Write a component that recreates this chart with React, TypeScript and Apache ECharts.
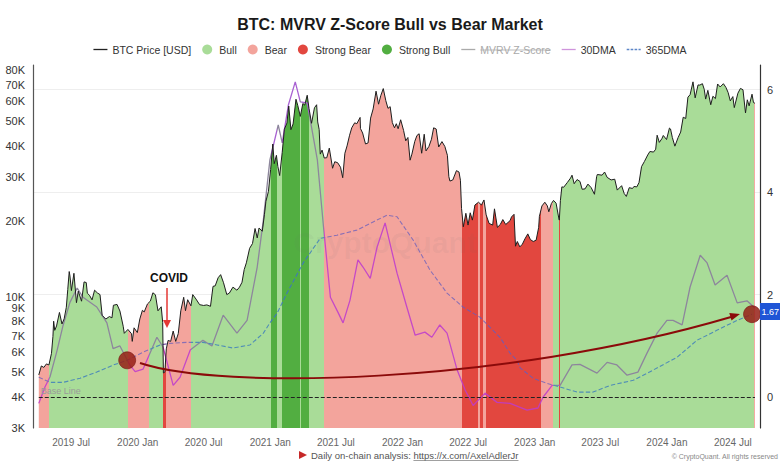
import React, { useEffect, useRef } from 'react';
import * as echarts from 'echarts';

type Regime = 'Bull' | 'Bear' | 'Strong Bear' | 'Strong Bull';

const TITLE = 'BTC: MVRV Z-Score Bull vs Bear Market';

// BTC price, USD
const btcPrice: [string, number][] = [
  ['2019-04-03', 4880], ['2019-04-10', 5300], ['2019-04-17', 5230], ['2019-04-24', 5400],
  ['2019-05-01', 5350], ['2019-05-08', 5950], ['2019-05-12', 6950], ['2019-05-14', 7990],
  ['2019-05-17', 7350], ['2019-05-22', 7650], ['2019-05-30', 8660], ['2019-06-06', 7790],
  ['2019-06-12', 8170], ['2019-06-18', 9080], ['2019-06-22', 10700], ['2019-06-26', 12600],
  ['2019-06-28', 12100], ['2019-07-02', 10580], ['2019-07-09', 12400], ['2019-07-16', 9470],
  ['2019-07-21', 10530], ['2019-07-30', 9600], ['2019-08-06', 11460], ['2019-08-12', 11390],
  ['2019-08-15', 10330], ['2019-08-21', 10130], ['2019-08-28', 9720], ['2019-09-04', 10620],
  ['2019-09-12', 10350], ['2019-09-19', 10200], ['2019-09-25', 8430], ['2019-10-05', 8150],
  ['2019-10-15', 8340], ['2019-10-22', 8240], ['2019-10-26', 9250], ['2019-11-05', 9320],
  ['2019-11-13', 8770], ['2019-11-22', 7630], ['2019-11-25', 7150], ['2019-12-05', 7410],
  ['2019-12-15', 7120], ['2019-12-17', 6640], ['2019-12-22', 7520], ['2019-12-31', 7200],
  ['2020-01-07', 8160], ['2020-01-14', 8830], ['2020-01-19', 8700], ['2020-01-28', 9360],
  ['2020-02-05', 9610], ['2020-02-12', 10370], ['2020-02-19', 10180], ['2020-02-26', 8790],
  ['2020-03-06', 9120], ['2020-03-10', 7910], ['2020-03-12', 4970], ['2020-03-16', 5010],
  ['2020-03-20', 6200], ['2020-03-25', 6700], ['2020-04-01', 6640], ['2020-04-08', 7300],
  ['2020-04-15', 6640], ['2020-04-22', 7130], ['2020-04-29', 8790], ['2020-05-07', 9950],
  ['2020-05-12', 8800], ['2020-05-18', 9730], ['2020-05-27', 9200], ['2020-06-01', 10200],
  ['2020-06-10', 9790], ['2020-06-20', 9300], ['2020-07-01', 9230], ['2020-07-10', 9280],
  ['2020-07-20', 9160], ['2020-07-27', 11000], ['2020-08-02', 11050], ['2020-08-10', 11900],
  ['2020-08-17', 12250], ['2020-08-25', 11370], ['2020-09-03', 10200], ['2020-09-10', 10340],
  ['2020-09-20', 10920], ['2020-10-01', 10620], ['2020-10-08', 10920], ['2020-10-15', 11420],
  ['2020-10-21', 12820], ['2020-10-27', 13650], ['2020-11-05', 15590], ['2020-11-13', 16300],
  ['2020-11-20', 18700], ['2020-11-26', 17150], ['2020-12-01', 18790], ['2020-12-10', 18240],
  ['2020-12-16', 21300], ['2020-12-20', 24000], ['2020-12-27', 26300], ['2021-01-02', 32100],
  ['2021-01-08', 40600], ['2021-01-12', 33900], ['2021-01-18', 36600], ['2021-01-22', 33000],
  ['2021-01-27', 30400], ['2021-02-03', 37600], ['2021-02-09', 46500], ['2021-02-16', 49200],
  ['2021-02-21', 57500], ['2021-02-27', 46300], ['2021-03-05', 48800], ['2021-03-13', 61200],
  ['2021-03-18', 57800], ['2021-03-25', 52300], ['2021-04-01', 58900], ['2021-04-06', 58000],
  ['2021-04-13', 63500], ['2021-04-18', 56200], ['2021-04-25', 49100], ['2021-05-03', 56600],
  ['2021-05-09', 58200], ['2021-05-12', 49700], ['2021-05-16', 46400], ['2021-05-19', 37000],
  ['2021-05-24', 38400], ['2021-05-30', 35700], ['2021-06-06', 35800], ['2021-06-13', 39100],
  ['2021-06-22', 32500], ['2021-06-28', 34500], ['2021-07-06', 34200], ['2021-07-14', 32800],
  ['2021-07-20', 29800], ['2021-07-26', 37300], ['2021-08-01', 39900], ['2021-08-08', 44000],
  ['2021-08-14', 47100], ['2021-08-22', 49300], ['2021-08-28', 48900], ['2021-09-06', 51800],
  ['2021-09-07', 46800], ['2021-09-13', 44900], ['2021-09-21', 40600], ['2021-09-28', 41000],
  ['2021-10-05', 51500], ['2021-10-12', 56000], ['2021-10-20', 65900], ['2021-10-27', 58500],
  ['2021-11-02', 63200], ['2021-11-09', 67500], ['2021-11-16', 60400], ['2021-11-22', 56300],
  ['2021-11-28', 57200], ['2021-12-04', 49400], ['2021-12-10', 47100], ['2021-12-15', 48900],
  ['2021-12-20', 46700], ['2021-12-27', 50700], ['2022-01-04', 46000], ['2022-01-10', 41800],
  ['2022-01-16', 43100], ['2022-01-22', 35000], ['2022-01-27', 37000], ['2022-02-04', 41600],
  ['2022-02-10', 43900], ['2022-02-16', 44600], ['2022-02-23', 37300], ['2022-03-02', 44400],
  ['2022-03-07', 38100], ['2022-03-15', 39700], ['2022-03-22', 42400], ['2022-03-28', 47100],
  ['2022-04-04', 46600], ['2022-04-11', 39500], ['2022-04-20', 41500], ['2022-04-28', 39700],
  ['2022-05-05', 36600], ['2022-05-09', 30100], ['2022-05-12', 28900], ['2022-05-20', 29200],
  ['2022-05-30', 31800], ['2022-06-06', 31400], ['2022-06-10', 29100], ['2022-06-13', 22500],
  ['2022-06-18', 19000], ['2022-06-25', 21500], ['2022-07-01', 19300], ['2022-07-07', 21600],
  ['2022-07-13', 20200], ['2022-07-20', 23200], ['2022-07-30', 23800], ['2022-08-07', 23200],
  ['2022-08-14', 24300], ['2022-08-20', 21200], ['2022-08-28', 19600], ['2022-09-07', 19300],
  ['2022-09-12', 22400], ['2022-09-20', 18900], ['2022-09-28', 19400], ['2022-10-05', 20300],
  ['2022-10-13', 19400], ['2022-10-25', 20100], ['2022-10-29', 20800], ['2022-11-05', 21300],
  ['2022-11-09', 15900], ['2022-11-14', 16600], ['2022-11-21', 15800], ['2022-11-28', 16200],
  ['2022-12-05', 17000], ['2022-12-13', 17800], ['2022-12-20', 16900], ['2022-12-28', 16600],
  ['2023-01-05', 16800], ['2023-01-12', 18900], ['2023-01-14', 20900], ['2023-01-21', 23000],
  ['2023-01-29', 23800], ['2023-02-05', 23000], ['2023-02-09', 21800], ['2023-02-16', 23500],
  ['2023-02-22', 24200], ['2023-03-01', 23600], ['2023-03-09', 20400], ['2023-03-10', 20200],
  ['2023-03-13', 24200], ['2023-03-17', 27400], ['2023-03-22', 27300], ['2023-04-01', 28500],
  ['2023-04-10', 29700], ['2023-04-14', 30500], ['2023-04-20', 28200], ['2023-04-28', 29300],
  ['2023-05-06', 28800], ['2023-05-12', 26800], ['2023-05-20', 26900], ['2023-05-28', 28100],
  ['2023-06-06', 27200], ['2023-06-15', 25600], ['2023-06-21', 30100], ['2023-06-23', 30700],
  ['2023-07-06', 30500], ['2023-07-13', 31400], ['2023-07-20', 29900], ['2023-07-31', 29200],
  ['2023-08-10', 29400], ['2023-08-17', 26600], ['2023-08-29', 27700], ['2023-09-05', 25800],
  ['2023-09-11', 25100], ['2023-09-19', 27200], ['2023-09-28', 27000], ['2023-10-02', 27500],
  ['2023-10-10', 27400], ['2023-10-16', 28500], ['2023-10-23', 33000], ['2023-10-31', 34600],
  ['2023-11-09', 36700], ['2023-11-15', 37900], ['2023-11-25', 37700], ['2023-12-01', 38700],
  ['2023-12-05', 44000], ['2023-12-11', 41200], ['2023-12-18', 42600], ['2023-12-22', 43900],
  ['2023-12-31', 42300], ['2024-01-08', 47000], ['2024-01-11', 46600], ['2024-01-16', 43100],
  ['2024-01-23', 39800], ['2024-02-01', 43100], ['2024-02-08', 45300], ['2024-02-15', 51900],
  ['2024-02-22', 51300], ['2024-02-28', 62400], ['2024-03-05', 63800], ['2024-03-13', 71800],
  ['2024-03-19', 62000], ['2024-03-27', 69800], ['2024-04-01', 69700], ['2024-04-08', 70600],
  ['2024-04-13', 67100], ['2024-04-17', 61300], ['2024-04-23', 66400], ['2024-05-01', 58200],
  ['2024-05-07', 62900], ['2024-05-14', 61600], ['2024-05-20', 70400], ['2024-05-27', 68500],
  ['2024-06-05', 70600], ['2024-06-12', 68200], ['2024-06-18', 65100], ['2024-06-24', 60300],
  ['2024-07-01', 62700], ['2024-07-05', 56700], ['2024-07-15', 64700], ['2024-07-22', 67600],
  ['2024-07-29', 66800], ['2024-08-05', 54000], ['2024-08-10', 60900], ['2024-08-15', 57600],
  ['2024-08-23', 64100], ['2024-08-27', 59400], ['2024-08-31', 59000],
];

// MVRV Z-Score 30-day moving average (right axis)
const zScore30DMA: [string, number][] = [
  ['2019-04-03', -0.12], ['2019-04-20', 0.2], ['2019-05-04', 0.4], ['2019-05-23', 0.9],
  ['2019-06-09', 1.4], ['2019-06-28', 1.85], ['2019-07-18', 2.13], ['2019-08-03', 1.95],
  ['2019-09-10', 1.76], ['2019-10-08', 1.45], ['2019-10-25', 0.95], ['2019-11-13', 1.0],
  ['2019-12-11', 0.62], ['2019-12-25', 0.5], ['2020-01-16', 0.55], ['2020-02-23', 1.17],
  ['2020-03-11', 0.98], ['2020-04-08', 0.23], ['2020-04-27', 0.39], ['2020-05-25', 0.92],
  ['2020-06-29', 1.11], ['2020-07-24', 1.0], ['2020-08-24', 1.6], ['2020-10-01', 1.25],
  ['2020-10-29', 1.5], ['2020-11-26', 2.54], ['2020-12-13', 3.46], ['2020-12-31', 4.63],
  ['2021-01-23', 5.31], ['2021-02-03', 4.96], ['2021-02-20', 5.7], ['2021-03-11', 6.15],
  ['2021-03-25', 5.76], ['2021-04-13', 5.74], ['2021-05-11', 4.63], ['2021-05-28', 3.32],
  ['2021-06-16', 1.95], ['2021-07-08', 1.64], ['2021-07-21', 1.45], ['2021-08-09', 1.89],
  ['2021-08-31', 2.68], ['2021-09-14', 2.54], ['2021-10-04', 2.32], ['2021-10-23', 2.93],
  ['2021-11-14', 3.4], ['2021-12-17', 2.42], ['2022-01-13', 1.76], ['2022-02-05', 1.21],
  ['2022-03-04', 1.27], ['2022-03-23', 1.17], ['2022-04-14', 1.41], ['2022-05-04', 1.25],
  ['2022-06-01', 0.53], ['2022-06-23', 0.14], ['2022-07-15', -0.16], ['2022-08-17', 0.08],
  ['2022-09-19', -0.1], ['2022-10-25', -0.12], ['2022-12-11', -0.25], ['2023-01-10', -0.21],
  ['2023-01-24', 0.0], ['2023-02-18', 0.23], ['2023-03-12', 0.23], ['2023-04-14', 0.63],
  ['2023-05-06', 0.64], ['2023-06-22', 0.47], ['2023-07-20', 0.68], ['2023-08-16', 0.63],
  ['2023-09-13', 0.43], ['2023-10-13', 0.49], ['2023-11-07', 0.86], ['2023-12-05', 1.25],
  ['2024-01-01', 1.5], ['2024-01-18', 1.5], ['2024-02-12', 1.41], ['2024-03-05', 2.15],
  ['2024-04-02', 2.77], ['2024-04-21', 2.62], ['2024-05-13', 2.19], ['2024-06-15', 2.38],
  ['2024-07-13', 1.84], ['2024-08-09', 1.88], ['2024-08-31', 1.74],
];

// MVRV Z-Score 365-day moving average (right axis)
const zScore365DMA: [string, number][] = [
  ['2019-04-03', 0.39], ['2019-05-04', 0.29], ['2019-06-09', 0.29], ['2019-07-26', 0.37],
  ['2019-09-10', 0.49], ['2019-10-26', 0.63], ['2019-12-03', 0.72], ['2020-01-16', 0.88],
  ['2020-03-03', 1.02], ['2020-03-30', 1.05], ['2020-05-16', 1.07], ['2020-06-29', 1.07],
  ['2020-08-07', 1.02], ['2020-09-20', 0.96], ['2020-11-06', 1.02], ['2020-12-13', 1.25],
  ['2020-12-31', 1.45], ['2021-01-20', 1.64], ['2021-02-16', 2.03], ['2021-04-02', 2.62],
  ['2021-05-19', 3.1], ['2021-07-04', 3.16], ['2021-08-28', 3.26], ['2021-10-12', 3.42],
  ['2021-11-19', 3.55], ['2021-12-17', 3.52], ['2022-01-30', 3.07], ['2022-03-18', 2.48],
  ['2022-05-04', 2.03], ['2022-06-17', 1.76], ['2022-08-03', 1.56], ['2022-09-27', 1.17],
  ['2022-10-25', 0.86], ['2022-11-13', 0.72], ['2022-11-22', 0.57], ['2022-12-28', 0.37],
  ['2023-02-04', 0.27], ['2023-03-12', 0.2], ['2023-04-28', 0.1], ['2023-06-11', 0.1],
  ['2023-07-28', 0.23], ['2023-09-30', 0.33], ['2023-11-24', 0.53], ['2024-01-29', 0.78],
  ['2024-03-24', 1.11], ['2024-05-19', 1.31], ['2024-07-13', 1.5], ['2024-08-23', 1.62],
];

// Market regime per period
const regimeSegments: [string, string, Regime][] = [
  ['2019-04-03', '2019-05-01', 'Bear'],
  ['2019-05-01', '2019-12-05', 'Bull'],
  ['2019-12-05', '2020-02-01', 'Bear'],
  ['2020-02-01', '2020-03-11', 'Bull'],
  ['2020-03-11', '2020-03-18', 'Strong Bear'],
  ['2020-03-18', '2020-05-27', 'Bear'],
  ['2020-05-27', '2021-01-04', 'Bull'],
  ['2021-01-04', '2021-01-21', 'Strong Bull'],
  ['2021-01-21', '2021-02-03', 'Bull'],
  ['2021-02-03', '2021-03-23', 'Strong Bull'],
  ['2021-03-23', '2021-03-28', 'Bull'],
  ['2021-03-28', '2021-04-18', 'Strong Bull'],
  ['2021-04-18', '2021-05-29', 'Bull'],
  ['2021-05-29', '2022-06-14', 'Bear'],
  ['2022-06-14', '2022-07-29', 'Strong Bear'],
  ['2022-07-29', '2022-08-04', 'Bear'],
  ['2022-08-04', '2022-08-11', 'Strong Bear'],
  ['2022-08-11', '2022-08-20', 'Bear'],
  ['2022-08-20', '2023-01-19', 'Strong Bear'],
  ['2023-01-19', '2023-02-21', 'Bear'],
  ['2023-02-21', '2023-03-09', 'Bull'],
  ['2023-03-09', '2023-03-12', 'Strong Bear'],
  ['2023-03-12', '2024-08-29', 'Bull'],
  ['2024-08-29', '2024-08-31', 'Bear'],
];

const priceTicks = [3000, 4000, 5000, 6000, 7000, 8000, 9000, 10000, 20000, 30000, 40000, 50000, 60000, 70000, 80000];
const zTicks = [0, 2, 4, 6];
const dateTicks = ['2019-07-01', '2020-01-01', '2020-07-01', '2021-01-01', '2021-07-01', '2022-01-01',
  '2022-07-01', '2023-01-01', '2023-07-01', '2024-01-01', '2024-07-01'];
const markedDates = ['2019-12-03', '2024-08-23'];
const lastValueLabel = '1.67';
const legendNames = ['BTC Price [USD]', 'Bull', 'Bear', 'Strong Bear', 'Strong Bull', 'MVRV Z-Score', '30DMA', '365DMA'];

// ---- styles ----
const FONT = '"Liberation Sans", Arial, Helvetica, sans-serif';
const regimeFill: Record<Regime, string> = {
  Bull: '#a9dc98', Bear: '#f3a49c', 'Strong Bear': '#e2473f', 'Strong Bull': '#52ae41',
};
const dma30Colors: Record<Regime, string> = {
  Bull: '#8d869c', Bear: '#c549c6', 'Strong Bear': '#c23cb8', 'Strong Bull': '#a861d2',
};
const dma365Colors: Record<Regime, string> = {
  Bull: '#4f8db6', Bear: '#8a6fb4', 'Strong Bear': '#7c58a6', 'Strong Bull': '#3f78b8',
};
const ICON_LINE = 'path://M0,0 L16,0 L16,1.5 L0,1.5 Z';
const ICON_DASH = 'path://M0,0 h3 v1.5 h-3 Z M4.5,0 h3 v1.5 h-3 Z M9,0 h3 v1.5 h-3 Z M13.5,0 h2.5 v1.5 h-2.5 Z';

const ts = (s: string) => {
  const [y, m, d] = s.split('-').map(Number);
  return new Date(y, m - 1, d).getTime();
};

function regimeGradient(startTs: number, endTs: number, palette: Record<Regime, string>) {
  const span = endTs - startTs;
  const stops: { offset: number; color: string }[] = [];
  regimeSegments.forEach(([s, e, r]) => {
    const a = Math.min(1, Math.max(0, (ts(s) - startTs) / span));
    const b = Math.min(1, Math.max(0, (ts(e) - startTs) / span));
    stops.push({ offset: a, color: palette[r] }, { offset: b, color: palette[r] });
  });
  return new echarts.graphic.LinearGradient(0, 0, 1, 0, stops);
}

export default function App() {
  const ref = useRef<HTMLDivElement>(null);

  useEffect(() => {
    document.body.style.margin = '0';
    if (!ref.current) return;
    const chart = echarts.init(ref.current, null, { renderer: 'svg' });

    const priceData = btcPrice.map(([d, v]) => [ts(d), Math.log10(v)]);
    const dma30Data = zScore30DMA.map(([d, v]) => [ts(d), v]);
    const dma365Data = zScore365DMA.map(([d, v]) => [ts(d), v]);

    const pStart = ts(btcPrice[0][0]);
    const pEnd = ts(btcPrice[btcPrice.length - 1][0]);
    const d30Start = ts(zScore30DMA[0][0]);
    const d30End = ts(zScore30DMA[zScore30DMA.length - 1][0]);
    const d365Start = ts(zScore365DMA[0][0]);
    const d365End = ts(zScore365DMA[zScore365DMA.length - 1][0]);

    const marks = markedDates.map((d) => {
      const found = zScore365DMA.find(([dd]) => dd === d)!;
      return { coord: [ts(found[0]), found[1]] };
    });

    const footFont = `9.5px ${FONT}`;
    const prefix = 'Daily on-chain analysis: ';
    const link = 'https://x.com/AxelAdlerJr';
    const ctx = document.createElement('canvas').getContext('2d')!;
    ctx.font = footFont;
    const prefixW = ctx.measureText(prefix).width;
    const linkW = ctx.measureText(link).width;
    const footX = 311;

    const regimeNames: Regime[] = ['Bull', 'Bear', 'Strong Bear', 'Strong Bull'];

    const graphics: any[] = [
      {
        id: 'wm', type: 'text', z: 3, silent: true,
        x: 385, y: 242,
        style: { text: 'CryptoQuant', font: `bold 30px ${FONT}`, fill: 'rgba(110,110,110,0.07)', align: 'center', verticalAlign: 'middle' },
      },
      {
        id: 'covid', type: 'text', z: 20,
        x: 169, y: 278,
        style: { text: 'COVID', font: `bold 12px ${FONT}`, fill: '#111', align: 'center', verticalAlign: 'middle' },
      },
      {
        id: 'covidShaft', type: 'line', z: 20,
        shape: { x1: 167, y1: 288, x2: 167, y2: 321 },
        style: { stroke: '#e53935', lineWidth: 1.5 },
      },
      {
        id: 'covidHead', type: 'polygon', z: 20,
        shape: { points: [[163, 320], [171, 320], [167, 328]] },
        style: { fill: '#e53935' },
      },
      {
        id: 'curve', type: 'bezierCurve', z: 20,
        shape: { x1: 140, y1: 363, cpx1: 220, cpy1: 390, cpx2: 500, cpy2: 385, x2: 731, y2: 317 },
        style: { stroke: '#8b0a0a', lineWidth: 2, fill: null },
      },
      {
        id: 'curveHead', type: 'polygon', z: 20,
        shape: { points: [[740, 314], [729.3, 313], [731.5, 320.6]] },
        style: { fill: '#8b0a0a' },
      },
      {
        id: 'lastBox', type: 'rect', z: 20,
        shape: { x: 760, y: 303, width: 30, height: 17 },
        style: { fill: '#1f55d6' },
      },
      {
        id: 'lastText', type: 'text', z: 21,
        x: 761.5, y: 311.5,
        style: { text: lastValueLabel, font: `9px ${FONT}`, fill: '#fff', align: 'left', verticalAlign: 'middle' },
      },
      {
        id: 'footFlag', type: 'polygon', z: 20,
        shape: { points: [[299, 451], [307, 455], [299, 459]] },
        style: { fill: '#c62828' },
      },
      {
        id: 'footText', type: 'text', z: 20,
        x: footX, y: 455,
        style: { text: prefix + link, font: footFont, fill: '#555', align: 'left', verticalAlign: 'middle' },
      },
      {
        id: 'footUnder', type: 'line', z: 20,
        shape: { x1: footX + prefixW, y1: 460.5, x2: footX + prefixW + linkW, y2: 460.5 },
        style: { stroke: '#777', lineWidth: 0.7 },
      },
      {
        id: 'copy', type: 'text', z: 20,
        x: 778, y: 456,
        style: { text: '© CryptoQuant. All rights reserved', font: `7px ${FONT}`, fill: '#888', align: 'right', verticalAlign: 'middle' },
      },
    ];

    chart.setOption({
      animation: false,
      textStyle: { fontFamily: FONT },
      title: {
        text: TITLE,
        left: 'center',
        top: 11,
        textStyle: { fontSize: 16, fontWeight: 'bold', color: '#1a1a1a', fontFamily: FONT },
      },
      legend: {
        top: 39,
        left: 'center',
        itemGap: 11,
        itemWidth: 14,
        itemHeight: 10,
        textStyle: { fontSize: 10.5, color: '#333' },
        inactiveColor: '#aaaaaa',
        selected: { 'MVRV Z-Score': false },
        data: [
          { name: legendNames[0], icon: ICON_LINE, itemStyle: { color: '#222' } },
          { name: legendNames[1], icon: 'circle' },
          { name: legendNames[2], icon: 'circle' },
          { name: legendNames[3], icon: 'circle' },
          { name: legendNames[4], icon: 'circle' },
          { name: legendNames[5], icon: ICON_LINE },
          { name: legendNames[6], icon: ICON_LINE, itemStyle: { color: '#cf94dc' } },
          { name: legendNames[7], icon: ICON_DASH, itemStyle: { color: '#5d86c8' } },
        ],
      },
      grid: { left: 33, right: 20, top: 65, bottom: 42 },
      xAxis: {
        type: 'value',
        min: ts('2019-03-18'),
        max: ts('2024-09-14'),
        axisLine: { show: false },
        axisTick: { show: false },
        splitLine: { show: false },
        axisLabel: {
          customValues: dateTicks.map(ts),
          formatter: (v: number) => {
            const d = new Date(v);
            return `${d.getFullYear()} ${d.getMonth() === 0 ? 'Jan' : 'Jul'}`;
          },
          color: '#666',
          fontSize: 10,
          margin: 9,
          hideOverlap: false,
        },
      },
      yAxis: [
        {
          type: 'value',
          position: 'left',
          min: Math.log10(priceTicks[0]),
          max: Math.log10(83800),
          axisLine: { show: true, lineStyle: { color: '#555', width: 1.2 } },
          axisTick: { show: false },
          splitLine: { show: false },
          axisLabel: {
            customValues: priceTicks.map((p) => Math.log10(p)),
            formatter: (v: number) => `${Math.round(Math.pow(10, v) / 1000)}K`,
            color: '#333',
            fontSize: 11,
            margin: 8,
          },
        },
        {
          type: 'value',
          position: 'right',
          min: -0.6,
          max: 6.48,
          axisLine: { show: true, lineStyle: { color: '#333', width: 1.2 } },
          axisTick: { show: false, customValues: zTicks.filter((z) => z !== 0) },
          splitLine: { show: true, lineStyle: { color: '#eeeeee', width: 1 } },
          axisLabel: {
            customValues: zTicks,
            color: '#333',
            fontSize: 11,
            margin: 7,
          },
        },
      ],
      series: [
        {
          name: 'regimeFill',
          type: 'line',
          data: priceData,
          symbol: 'none',
          silent: true,
          lineStyle: { width: 0 },
          areaStyle: { origin: 'start', opacity: 1, color: regimeGradient(pStart, pEnd, regimeFill) },
          z: 1,
        },
        {
          name: 'BTC Price [USD]',
          type: 'line',
          data: priceData,
          symbol: 'none',
          color: '#222',
          lineStyle: { color: '#1e1e1e', width: 1 },
          z: 5,
        },
        ...regimeNames.map((r) => ({
          name: r,
          type: 'line',
          data: [],
          symbol: 'none',
          color: regimeFill[r],
          itemStyle: { color: regimeFill[r] },
        })),
        {
          name: 'MVRV Z-Score',
          type: 'line',
          yAxisIndex: 1,
          data: [],
          symbol: 'none',
          color: '#888',
        },
        {
          name: '30DMA',
          type: 'line',
          yAxisIndex: 1,
          data: dma30Data,
          symbol: 'none',
          color: '#c58bd6',
          lineStyle: { width: 1.3, color: regimeGradient(d30Start, d30End, dma30Colors) },
          z: 4,
          markLine: {
            silent: true,
            symbol: ['none', 'none'],
            lineStyle: { type: 'dashed', color: '#222', width: 1 },
            label: { show: true, position: 'insideStartTop', formatter: 'Base Line', color: '#9a9a9a', fontSize: 9, distance: 2 },
            data: [[{ coord: [pStart, 0] }, { coord: [pEnd, 0] }]],
          },
        },
        {
          name: '365DMA',
          type: 'line',
          yAxisIndex: 1,
          data: dma365Data,
          symbol: 'none',
          color: '#5d86c8',
          lineStyle: { width: 1.1, type: 'dashed', color: regimeGradient(d365Start, d365End, dma365Colors) },
          z: 4,
          markPoint: {
            silent: true,
            symbol: 'circle',
            symbolSize: 17,
            itemStyle: { color: 'rgba(150, 32, 22, 0.85)', borderColor: 'rgba(120,20,15,0.6)', borderWidth: 1 },
            label: { show: false },
            data: marks,
          },
        },
      ],
      graphic: graphics,
    });

    // strike-through over the deselected legend entry
    const txt = Array.from(ref.current.querySelectorAll('text')).find(
      (t) => t.textContent === legendNames[5],
    ) as SVGTextElement | undefined;
    if (txt) {
      const bb = txt.getBBox();
      const m = txt.getCTM();
      const x0 = bb.x + (m ? m.e : 0);
      const y0 = bb.y + (m ? m.f : 0);
      chart.setOption({
        graphic: [
          ...graphics,
          {
            id: 'strike', type: 'line', z: 30,
            shape: { x1: x0, y1: y0 + bb.height / 2 + 0.5, x2: x0 + bb.width, y2: y0 + bb.height / 2 + 0.5 },
            style: { stroke: '#aaaaaa', lineWidth: 0.8 },
          },
        ],
      });
    }

    return () => chart.dispose();
  }, []);

  return <div ref={ref} style={{ width: 780, height: 470 }} />;
}
